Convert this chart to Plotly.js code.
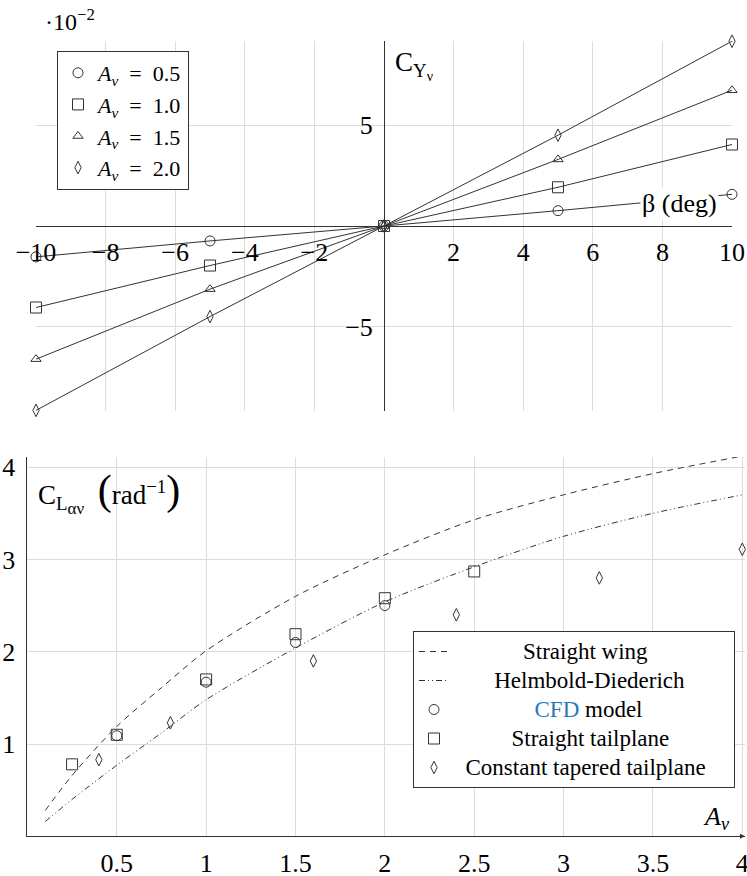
<!DOCTYPE html>
<html>
<head>
<meta charset="utf-8">
<script src="https://cdn.plot.ly/plotly-3.0.1.min.js"></script>
<style>html,body{margin:0;padding:0;background:#fff;}#chart{width:747px;height:876px;}</style>
</head>
<body>
<div id="chart"></div>
<script>
// ---- Top chart data (C_Yv, units 1e-2, vs sideslip beta in deg) ----
const betaDeg = [-10, -5, 0, 5, 10];
const cyAv05 = [-1.53, -0.74, 0, 0.76, 1.57];
const cyAv10 = [-4.04, -1.96, 0, 1.92, 4.04];
const cyAv15 = [-6.60, -3.13, 0, 3.30, 6.73];
const cyAv20 = [-9.14, -4.49, 0, 4.50, 9.16];
const avValues = ['0.5', '1.0', '1.5', '2.0'];
const topXTicks = [-10, -8, -6, -4, -2, 2, 4, 6, 8, 10];
const topXTickText = ['\u221210', '\u22128', '\u22126', '\u22124', '\u22122', '2', '4', '6', '8', '10'];
const topYTicks = [-5, 5];
const topYTickText = ['\u22125', '5'];

// ---- Bottom chart data (C_L_alpha_v vs A_v) ----
const avCurve = [0.1, 0.25, 0.5, 0.75, 1, 1.5, 2, 2.5, 3, 3.5, 4];
const straightWing = [0.28, 0.66, 1.19, 1.61, 2.01, 2.60, 3.05, 3.43, 3.70, 3.93, 4.12];
const helmbold = [0.16, 0.40, 0.77, 1.12, 1.48, 2.04, 2.54, 2.92, 3.25, 3.50, 3.70];
const cfdAv = [0.5, 1, 1.5, 2];
const cfdCL = [1.09, 1.67, 2.10, 2.50];
const straightTailAv = [0.25, 0.5, 1, 1.5, 2, 2.5];
const straightTailCL = [0.78, 1.10, 1.70, 2.19, 2.58, 2.87];
const taperedAv = [0.4, 0.8, 1.6, 2.4, 3.2, 4];
const taperedCL = [0.83, 1.23, 1.90, 2.40, 2.80, 3.11];
const botXTicks = [0.5, 1, 1.5, 2, 2.5, 3, 3.5, 4];
const botXTickText = ['0.5', '1', '1.5', '2', '2.5', '3', '3.5', '4'];
const botYTicks = [1, 2, 3, 4];
const botYTickText = ['1', '2', '3', '4'];

const FONT = 'Liberation Serif, Times New Roman, serif';
const INK = '#333';
const W = 747, H = 876;

// pixel layout helpers
const px = v => v / W;
const py = v => 1 - v / H;

const topSeries = [cyAv05, cyAv10, cyAv15, cyAv20];
const topSymbols = ['circle-open', 'square-open', 'triangle-up-open', 'diamond-tall-open'];
const topSizes = [10, 11, 9, 9];

const traces = [];
topSeries.forEach((ys, i) => {
  traces.push({
    x: betaDeg, y: ys, xaxis: 'x', yaxis: 'y', mode: 'lines',
    line: {color: INK, width: 1}, showlegend: false, hoverinfo: 'skip'
  });
});
topSeries.forEach((ys, i) => {
  traces.push({
    x: betaDeg, y: ys, xaxis: 'x', yaxis: 'y', mode: 'markers',
    marker: {symbol: topSymbols[i], size: topSizes[i], color: INK, line: {color: INK, width: 1}},
    cliponaxis: false, legend: 'legend', legendgroup: 'g' + i,
    name: '<i>A</i><sub><i>\u03bd</i></sub>\u2002=\u2002' + avValues[i]
  });
});

const pad = n => '\u00A0'.repeat(n);
const big = s => '<span style="font-size:23px">' + s + '</span>';
traces.push({
  x: avCurve, y: straightWing, xaxis: 'x2', yaxis: 'y2', mode: 'lines',
  line: {color: INK, width: 1, dash: '6px,5px', shape: 'spline', smoothing: 0.8},
  legend: 'legend2', name: big(pad(12) + 'Straight wing')
});
traces.push({
  x: avCurve, y: helmbold, xaxis: 'x2', yaxis: 'y2', mode: 'lines',
  line: {color: INK, width: 1, dash: '6px,3px,1px,3px,1px,3px', shape: 'spline', smoothing: 0.8},
  legend: 'legend2', name: big(pad(7) + 'Helmbold-Diederich')
});
traces.push({
  x: cfdAv, y: cfdCL, xaxis: 'x2', yaxis: 'y2', mode: 'markers', cliponaxis: false,
  marker: {symbol: 'circle-open', size: 10, color: INK, line: {color: INK, width: 1}},
  legend: 'legend2', name: big(pad(14)) + '<span style="font-size:23px;color:#2a7ab9">CFD</span>' + big(' model')
});
traces.push({
  x: straightTailAv, y: straightTailCL, xaxis: 'x2', yaxis: 'y2', mode: 'markers', cliponaxis: false,
  marker: {symbol: 'square-open', size: 11, color: INK, line: {color: INK, width: 1}},
  legend: 'legend2', name: big(pad(10) + 'Straight tailplane')
});
traces.push({
  x: taperedAv, y: taperedCL, xaxis: 'x2', yaxis: 'y2', mode: 'markers', cliponaxis: false,
  marker: {symbol: 'diamond-tall-open', size: 9, color: INK, line: {color: INK, width: 1}},
  legend: 'legend2', name: big(pad(2) + 'Constant tapered tailplane' + pad(4))
});

const topXDom = [px(36), px(732)];
const topYDom = [py(411), py(41)];
const yZeroPaper = (topYDom[0] + topYDom[1]) / 2;
const xZeroPaper = (topXDom[0] + topXDom[1]) / 2;

const axisCommon = {
  showgrid: true, gridcolor: '#dcdcdc', gridwidth: 1, zeroline: false,
  showline: true, linecolor: INK, linewidth: 1, ticks: '',
  tickfont: {family: FONT, size: 26, color: '#000'}, tickmode: 'array', fixedrange: true,
  ticklabeloverflow: 'allow'
};

const botPxPerUnit = (742.3 - 27.4) / 4;
const botXMax = 4.015;

const layout = {
  width: W, height: H,
  margin: {l: 0, r: 0, t: 0, b: 0},
  paper_bgcolor: '#fff', plot_bgcolor: 'rgba(0,0,0,0)',
  font: {family: FONT, color: '#000'},
  xaxis: Object.assign({}, axisCommon, {
    domain: topXDom, range: [-10, 10], anchor: 'free', position: yZeroPaper,
    tickvals: topXTicks, ticktext: topXTickText, ticklabelstandoff: 3
  }),
  yaxis: Object.assign({}, axisCommon, {
    domain: topYDom, range: [-9.17, 9.17], anchor: 'free', position: xZeroPaper,
    tickvals: topYTicks, ticktext: topYTickText, ticklabelstandoff: 6
  }),
  xaxis2: Object.assign({}, axisCommon, {
    domain: [px(27.4), px(27.4 + botXMax * botPxPerUnit)], range: [0, botXMax], anchor: 'y2',
    tickvals: botXTicks, ticktext: botXTickText, ticklabelstandoff: 3
  }),
  yaxis2: Object.assign({}, axisCommon, {
    domain: [py(836.3), py(457)], range: [0, 4.11], anchor: 'x2',
    tickvals: botYTicks, ticktext: botYTickText, ticklabelstandoff: 6
  }),
  legend: {
    x: px(57), y: py(51), xanchor: 'left', yanchor: 'top',
    bgcolor: '#fff', bordercolor: INK, borderwidth: 1,
    font: {family: FONT, size: 22, color: '#000'}, tracegroupgap: 0, itemwidth: 30
  },
  legend2: {
    x: px(413), y: py(631), xanchor: 'left', yanchor: 'top',
    bgcolor: '#fff', bordercolor: INK, borderwidth: 1,
    font: {family: FONT, size: 20, color: '#000'}, itemwidth: 30
  },
  annotations: [
    {xref: 'paper', yref: 'paper', x: px(43), y: py(20), xanchor: 'left', yanchor: 'middle',
     text: '\u00b710<sup>\u22122</sup>', showarrow: false, font: {family: FONT, size: 24}},
    {xref: 'paper', yref: 'paper', x: px(393), y: py(66), xanchor: 'left', yanchor: 'middle',
     text: 'C<sub>Y<sub><span style="font-size:14px">\u03bd</span></sub></sub>', showarrow: false, font: {family: FONT, size: 27}},
    {xref: 'x', yref: 'y', x: 8.5, y: 1.13, xanchor: 'center', yanchor: 'middle',
     text: '\u03b2 (deg)', showarrow: false, bgcolor: '#fff', font: {family: FONT, size: 26}},
    {xref: 'paper', yref: 'paper', x: px(36), y: py(492), xanchor: 'left', yanchor: 'middle',
     text: 'C<sub>L<sub><span style="font-size:17px">\u03b1\u03bd</span></sub></sub>\u00a0\u00a0<span style="font-size:42px">(</span>rad<sup>\u22121</sup><span style="font-size:42px">)</span>',
     showarrow: false, font: {family: FONT, size: 27}},
    {xref: 'paper', yref: 'paper', x: px(716), y: py(818), xanchor: 'center', yanchor: 'middle',
     text: '<i>A</i><sub><i>\u03bd</i></sub>', showarrow: false, font: {family: FONT, size: 26}},
    // axis arrows
    {xref: 'x', yref: 'y', x: 10.05, y: 0, ax: -8, ay: 0, text: '', showarrow: true,
     arrowhead: 2, arrowsize: 1, arrowwidth: 1, arrowcolor: INK},
    {xref: 'x', yref: 'y', x: 0, y: 9.25, ax: 0, ay: 8, text: '', showarrow: true,
     arrowhead: 2, arrowsize: 1, arrowwidth: 1, arrowcolor: INK},
    {xref: 'x2', yref: 'y2', x: botXMax, y: 0, ax: -8, ay: 0, text: '', showarrow: true,
     arrowhead: 2, arrowsize: 1, arrowwidth: 1, arrowcolor: INK},
    {xref: 'x2', yref: 'y2', x: 0, y: 4.15, ax: 0, ay: 8, text: '', showarrow: true,
     arrowhead: 2, arrowsize: 1, arrowwidth: 1, arrowcolor: INK}
  ]
};

Plotly.newPlot('chart', traces, layout, {staticPlot: true, displayModeBar: false});
</script>
</body>
</html>
